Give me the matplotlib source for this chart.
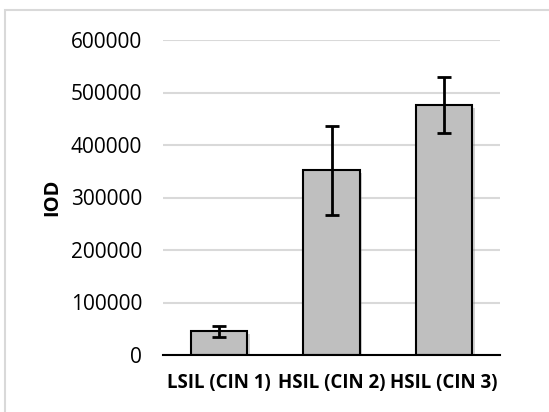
import matplotlib.pyplot as plt
from matplotlib.patches import Rectangle
import matplotlib.patheffects as pe

# IOD by lesion grade
categories = ['LSIL (CIN 1)', 'HSIL (CIN 2)', 'HSIL (CIN 3)']
iod_mean = [45000, 352000, 476000]
iod_err = [10000, 85000, 54000]
y_ticks = [0, 100000, 200000, 300000, 400000, 500000, 600000]

plt.rcParams['font.family'] = ['Open Sans', 'DejaVu Sans']

fig = plt.figure(figsize=(5.49, 4.12), dpi=100)
W, H = 549, 412

# light chart border (open on the right and bottom)
fig.patches.append(Rectangle((5 / W, -0.05), 1.1, 402 / H + 0.05,
                             transform=fig.transFigure, fill=False,
                             edgecolor='#d9d9d9', linewidth=1.5))

ax = fig.add_axes([163 / W, 1 - 355 / H, (500 - 163) / W, (355 - 40) / H])

bars = ax.bar(range(len(categories)), iod_mean, width=0.5, color='#bfbfbf',
              edgecolor='black', linewidth=1.5, zorder=3)
for b in bars:
    b.set_path_effects([pe.SimplePatchShadow(offset=(2, -2), shadow_rgbFace='#808080', alpha=0.35),
                        pe.Normal()])

ax.errorbar(range(len(categories)), iod_mean, yerr=iod_err, fmt='none',
            ecolor='black', elinewidth=2, capsize=5, capthick=2, zorder=4)

ax.set_xlim(-0.5, 2.5)
ax.set_ylim(0, 600000)
ax.set_yticks(y_ticks)
ax.set_yticklabels([str(v) for v in y_ticks], fontsize=15)
ax.set_xticks(range(len(categories)))
ax.set_xticklabels(categories, fontsize=13.5, fontweight='bold')
ax.tick_params(length=0)
ax.tick_params(axis='y', pad=15)
ax.tick_params(axis='x', pad=13)

ax.grid(axis='y', color='#d9d9d9', linewidth=1.5, zorder=0)
for s in ['top', 'right', 'left']:
    ax.spines[s].set_visible(False)
ax.spines['bottom'].set_linewidth(1.5)
ax.spines['bottom'].set_zorder(5)

ax.set_ylabel('IOD', fontsize=14.5, fontweight='bold', labelpad=6)

fig.savefig('out.png', dpi=100)
